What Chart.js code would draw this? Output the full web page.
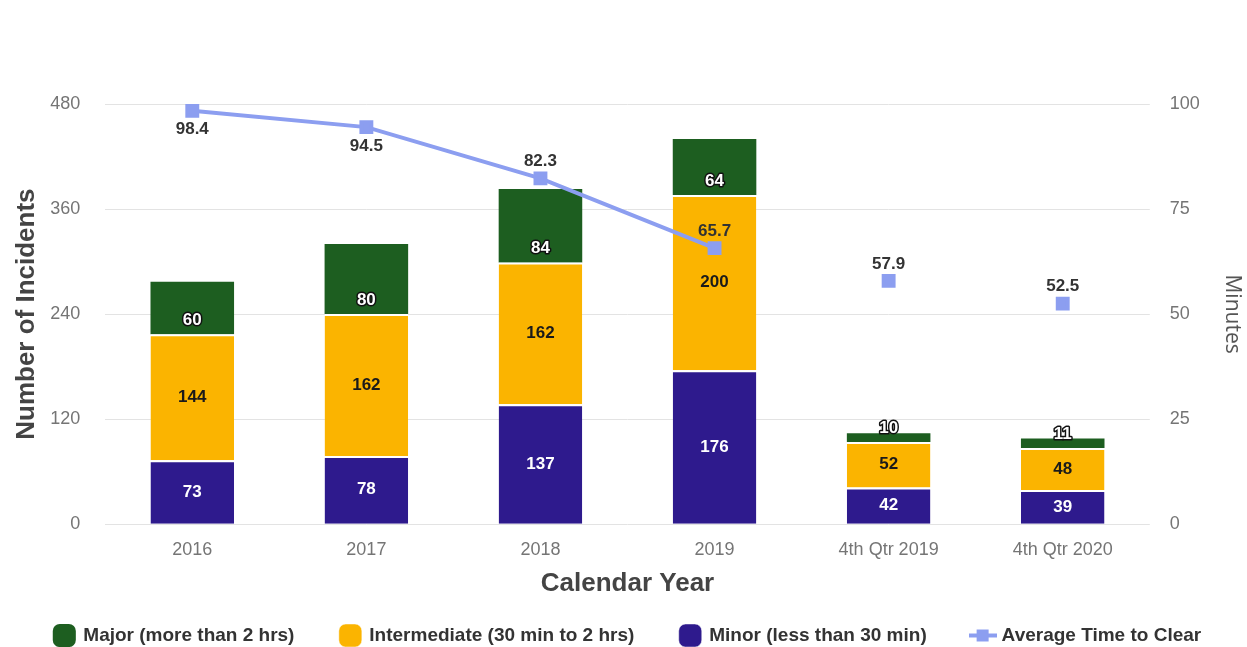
<!DOCTYPE html>
<html>
<head>
<meta charset="utf-8">
<script src="https://cdn.jsdelivr.net/npm/chart.js@4.4.1/dist/chart.umd.min.js"></script>
<style>
  html, body { margin: 0; padding: 0; background: #fff; }
  #wrap { width: 1247px; height: 647px; }
</style>
</head>
<body>
<div id="wrap"><canvas id="chart" width="1247" height="647"></canvas></div>
<script>
var years = ['2016', '2017', '2018', '2019', '4th Qtr 2019', '4th Qtr 2020'];
var minor = [73, 78, 137, 176, 42, 39];
var intermediate = [144, 162, 162, 200, 52, 48];
var major = [60, 80, 84, 64, 10, 11];
var avgTime = [98.4, 94.5, 82.3, 65.7, 57.9, 52.5];
var leftTicks = [0, 120, 240, 360, 480];
var rightTicks = [0, 25, 50, 75, 100];

var GREEN = '#1d5e20', YELLOW = '#fbb400', PURPLE = '#2e1a8d', BLUE = '#8c9ef0';
var FONT = "'Liberation Sans', Arial, sans-serif";

// legend marker for the line: short line with a square
function lineMarker(){
  var c = document.createElement('canvas');
  c.width = 28; c.height = 14;
  var g = c.getContext('2d');
  g.fillStyle = BLUE;
  g.fillRect(0, 5, 28, 4);
  g.fillRect(8, 1, 12, 12);
  return c;
}

var legendRank = {'Major (more than 2 hrs)':0, 'Intermediate (30 min to 2 hrs)':1, 'Minor (less than 30 min)':2, 'Average Time to Clear':3};

var labelPlugin = {
  id: 'valueLabels',
  afterDatasetsDraw: function(chart){
    var ctx = chart.ctx;
    ctx.save();
    ctx.textAlign = 'center';
    ctx.textBaseline = 'middle';
    ctx.font = 'bold 17px ' + FONT;
    chart.data.datasets.forEach(function(ds, i){
      var meta = chart.getDatasetMeta(i);
      meta.data.forEach(function(el, j){
        var v = ds.data[j];
        if (v == null) return;
        var txt = String(v);
        if (ds.kind == 'major'){
          ctx.lineJoin = 'round';
          ctx.lineWidth = 3;
          ctx.strokeStyle = '#111';
          ctx.strokeText(txt, el.x, el.base - 14);
          ctx.fillStyle = '#fff';
          ctx.fillText(txt, el.x, el.base - 14);
        } else if (ds.kind == 'inter'){
          ctx.fillStyle = '#1a1a1a';
          ctx.fillText(txt, el.x, (el.y + el.base) / 2);
        } else if (ds.kind == 'minor'){
          ctx.fillStyle = '#fff';
          ctx.fillText(txt, el.x, (el.y + el.base) / 2);
        } else if (ds.kind == 'line'){
          var below = chart.options.plugins.valueLabels.below[j];
          ctx.fillStyle = '#333';
          ctx.fillText(txt, el.x, below ? el.y + 19 : el.y - 17);
        }
      });
    });
    ctx.restore();
  }
};

var qid = document.getElementById('chart');
var myChart = new Chart(qid, {
  type: 'bar',
  data: {
    labels: years,
    datasets: [{
      kind: 'minor',
      label: 'Minor (less than 30 min)',
      data: minor,
      backgroundColor: PURPLE,
      borderColor: '#fff',
      borderWidth: {top: 2, bottom: 0, left: 0, right: 0},
      borderSkipped: false,
      pointStyle: 'rectRounded',
      order: 1
    },
    {
      kind: 'inter',
      label: 'Intermediate (30 min to 2 hrs)',
      data: intermediate,
      backgroundColor: YELLOW,
      borderColor: '#fff',
      borderWidth: {top: 2, bottom: 0, left: 0, right: 0},
      borderSkipped: false,
      pointStyle: 'rectRounded',
      order: 1
    },
    {
      kind: 'major',
      label: 'Major (more than 2 hrs)',
      data: major,
      backgroundColor: GREEN,
      borderWidth: 0,
      pointStyle: 'rectRounded',
      order: 1
    },
    {
      kind: 'line',
      type: 'line',
      label: 'Average Time to Clear',
      data: avgTime,
      yAxisID: 'y1',
      borderColor: BLUE,
      backgroundColor: BLUE,
      borderWidth: 4,
      pointStyle: 'rect',
      pointRadius: 7,
      pointHoverRadius: 7,
      segment: {
        borderColor: function(c){ return c.p0DataIndex >= 3 ? 'transparent' : BLUE; }
      },
      order: 0
    }]
  },
  options: {
    responsive: false,
    animation: false,
    layout: { padding: { top: 104, left: 11, right: 2, bottom: -8 } },
    datasets: { bar: { barPercentage: 0.48, categoryPercentage: 1 } },
    scales: {
      x: {
        stacked: true,
        grid: { display: false },
        border: { display: false },
        ticks: { color: '#757575', font: { family: FONT, size: 18 }, padding: 7 },
        title: { display: true, text: 'Calendar Year', color: '#444', font: { family: FONT, size: 26, weight: 'bold' }, padding: { top: 0, bottom: 7 } }
      },
      y: {
        stacked: true,
        min: 0, max: 480,
        afterBuildTicks: function(s){ s.ticks = leftTicks.map(function(v){ return {value: v}; }); },
        grid: { color: '#e3e3e3', drawTicks: false },
        border: { display: false },
        ticks: { color: '#757575', font: { family: FONT, size: 18 }, padding: 25 },
        title: { display: true, text: 'Number of Incidents', color: '#444', font: { family: FONT, size: 26, weight: 'bold' }, padding: { top: 0, bottom: -17 } }
      },
      y1: {
        position: 'right',
        min: 0, max: 100,
        afterBuildTicks: function(s){ s.ticks = rightTicks.map(function(v){ return {value: v}; }); },
        grid: { display: false, drawTicks: false },
        border: { display: false },
        ticks: { color: '#757575', font: { family: FONT, size: 18 }, padding: 20 },
        title: { display: true, text: 'Minutes', color: '#555', font: { family: "'Open Sans', sans-serif", size: 21 }, padding: { top: 0, bottom: 0 } }
      }
    },
    plugins: {
      tooltip: { enabled: false },
      valueLabels: { below: [true, true, false, false, false, false] },
      legend: {
        position: 'bottom',
        labels: {
          usePointStyle: true,
          boxHeight: 19,
          padding: 20,
          color: '#333',
          font: { family: FONT, size: 19, weight: 'bold' },
          generateLabels: function(chart){
            var items = Chart.defaults.plugins.legend.labels.generateLabels(chart);
            items.forEach(function(it){
              if (it.text == 'Average Time to Clear') it.pointStyle = lineMarker();
              else it.text = it.text + '     ';
            });
            return items;
          },
          sort: function(a, b){ return legendRank[a.text.trim()] - legendRank[b.text.trim()]; }
        }
      }
    }
  },
  plugins: [labelPlugin]
});
</script>
</body>
</html>
